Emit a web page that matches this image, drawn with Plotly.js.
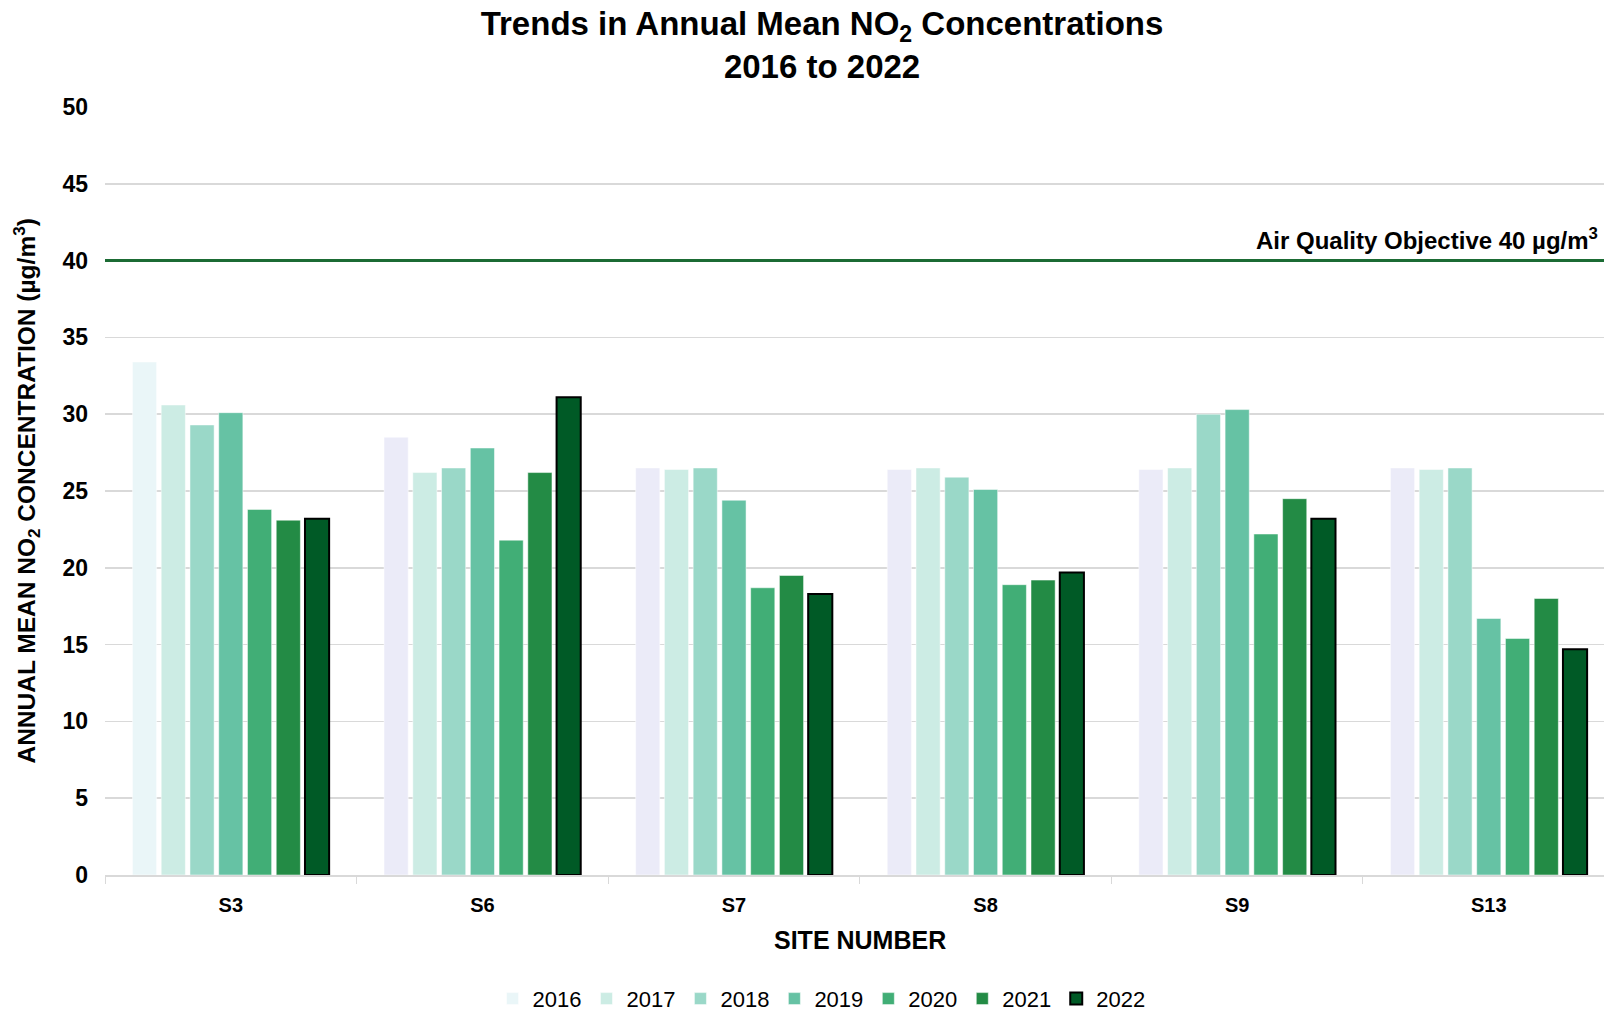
<!DOCTYPE html>
<html>
<head>
<meta charset="utf-8">
<script src="https://cdn.plot.ly/plotly-3.0.1.min.js"></script>
<style>html,body{margin:0;padding:0;background:#fff;}#chart{width:1604px;height:1013px;}</style>
</head>
<body>
<div id="chart"></div>
<script>
const sites = ["S3", "S6", "S7", "S8", "S9", "S13"];
const years = ["2016", "2017", "2018", "2019", "2020", "2021", "2022"];
const v2016 = [33.4, 28.5, 26.5, 26.4, 26.4, 26.5];
const v2017 = [30.6, 26.2, 26.4, 26.5, 26.5, 26.4];
const v2018 = [29.3, 26.5, 26.5, 25.9, 30.0, 26.5];
const v2019 = [30.1, 27.8, 24.4, 25.1, 30.3, 16.7];
const v2020 = [23.8, 21.8, 18.7, 18.9, 22.2, 15.4];
const v2021 = [23.1, 26.2, 19.5, 19.2, 24.5, 18.0];
const v2022 = [23.2, 31.1, 18.3, 19.7, 23.2, 14.7];
const series = [v2016, v2017, v2018, v2019, v2020, v2021, v2022];
const colors = [
  ["#EAF6F8", "#EBEBF8", "#EBEBF8", "#EBEBF8", "#EBEBF8", "#EBEBF8"],
  "#CCECE4", "#9AD8C8", "#66C2A4", "#41AE76", "#238B45", "#005A26"
];
const objective = 40;

const FONT = "Liberation Sans, Arial, sans-serif";
const NARROW = "Liberation Sans Narrow, Arial Narrow, Liberation Sans, Arial, sans-serif";

const traces = years.map((yr, i) => ({
  type: "bar",
  name: yr,
  x: sites,
  y: series[i],
  marker: {
    color: colors[i],
    line: i === 6 ? {color: "#000000", width: 2} : {color: "#ffffff", width: 0.5}
  },
  hoverinfo: "x+y+name"
}));

const layout = {
  width: 1604,
  height: 1013,
  paper_bgcolor: "#ffffff",
  plot_bgcolor: "#ffffff",
  margin: {l: 105, r: 0, t: 107, b: 138, autoexpand: false},
  barmode: "group",
  bargap: 0.2,
  bargroupgap: 0.16,
  font: {family: FONT, color: "#000000"},
  title: {
    text: "Trends in Annual Mean NO<sub>2</sub> Concentrations<br>2016 to 2022",
    font: {family: NARROW, size: 33, weight: "bold", color: "#000000"},
    x: 0.5125, xref: "container", xanchor: "center",
    y: 0.965, yref: "container", yanchor: "middle"
  },
  xaxis: {
    type: "category",
    range: [-0.5, 5.458],
    automargin: false,
    showgrid: false,
    showline: true,
    linecolor: "#d9d9d9",
    linewidth: 1.5,
    ticks: "outside",
    tickson: "boundaries",
    ticklen: 7,
    tickcolor: "#d9d9d9",
    tickfont: {family: FONT, size: 20, weight: "bold", color: "#000000"},
    ticklabelstandoff: 11,
    fixedrange: true
  },
  yaxis: {
    range: [0, 50],
    dtick: 5,
    automargin: false,
    showgrid: true,
    gridcolor: "#d9d9d9",
    gridwidth: 1.5,
    zeroline: false,
    showline: false,
    ticks: "",
    tickfont: {family: FONT, size: 23, weight: "bold", color: "#000000"},
    ticklabelstandoff: 16,
    fixedrange: true
  },
  legend: {
    orientation: "h",
    x: 0.478, xanchor: "center",
    y: 0.014, yref: "container", yanchor: "middle",
    font: {family: FONT, size: 22, color: "#000000"},
    itemwidth: 30,
    tracegroupgap: 0,
    traceorder: "normal"
  },
  shapes: [{
    type: "line", xref: "paper", x0: 0, x1: 1,
    yref: "y", y0: objective, y1: objective,
    line: {color: "#1B6B34", width: 3}
  }],
  annotations: [
    {
      text: "Air Quality Objective " + objective + " µg/m<sup>3</sup>",
      xref: "paper", x: 0.997, xanchor: "right",
      yref: "y", y: objective, yanchor: "bottom", yshift: 5,
      showarrow: false,
      font: {family: FONT, size: 24, weight: "bold", color: "#000000"}
    },
    {
      text: "ANNUAL MEAN NO<sub>2</sub> CONCENTRATION (µg/m<sup>3</sup>)",
      xref: "paper", x: -0.053, xanchor: "center",
      yref: "paper", y: 0.5, yanchor: "middle",
      textangle: -90,
      showarrow: false,
      font: {family: NARROW, size: 24.5, weight: "bold", color: "#000000"}
    },
    {
      text: "SITE NUMBER",
      xref: "paper", x: 0.5037, xanchor: "center",
      yref: "paper", y: -0.0846, yanchor: "middle",
      showarrow: false,
      font: {family: FONT, size: 25, weight: "bold", color: "#000000"}
    }
  ]
};

Plotly.newPlot("chart", traces, layout, {displayModeBar: false, staticPlot: true});
</script>
</body>
</html>
